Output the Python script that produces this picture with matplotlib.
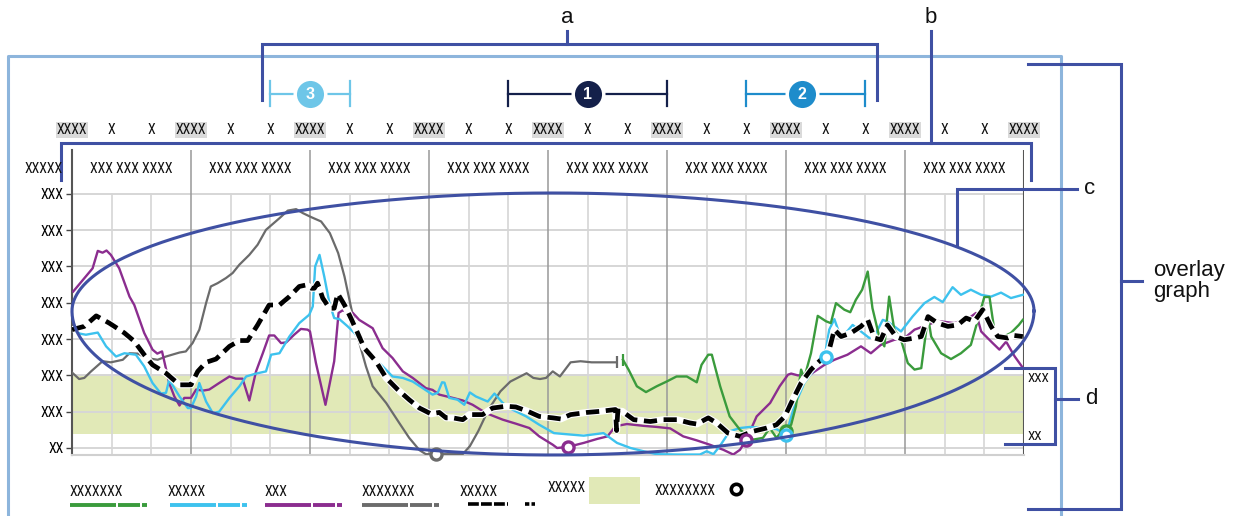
import matplotlib
matplotlib.use("Agg")
import matplotlib.pyplot as plt
from matplotlib import font_manager
from matplotlib.transforms import blended_transform_factory
import numpy as np

# ---- data (x in grid columns 0..24, y in tick units 0..7) ----
purple_x = [0.03, 0.52, 0.65, 0.77, 0.87, 0.98, 1.19, 1.45, 1.57, 1.82,
            2.03, 2.15, 2.27, 2.45, 2.58, 2.71, 2.83, 3.0, 3.13, 3.30,
            3.46, 3.71, 3.97, 4.13, 4.30, 4.47, 4.64, 4.81, 4.97, 5.10,
            5.27, 5.40, 5.6, 5.77, 5.94, 6.0, 6.15, 6.39, 6.61, 6.72,
            6.82, 7.08, 7.24, 7.58, 7.83, 8.08, 8.34, 8.59, 8.92, 9.09,
            9.26, 9.6, 9.85, 10.1, 10.44, 10.86, 11.19, 11.53, 11.78, 12.12,
            12.23, 12.5, 12.9, 13.24, 13.5, 13.7, 13.99, 14.41, 14.74, 15.08,
            15.41, 15.75, 16.08, 16.42, 16.67, 16.84, 17.0, 17.26, 17.6, 17.84,
            18.05, 18.13, 18.3, 18.63, 18.97, 19.22, 19.55, 19.89, 20.14, 20.39,
            20.73, 20.98, 21.24, 21.57, 21.82, 22.24, 22.58, 22.79, 22.92, 23.0,
            23.21, 23.38, 23.55, 23.76, 23.97]
purple_y = [4.31, 4.95, 5.43, 5.38, 5.44, 5.32, 4.95, 4.17, 3.94, 3.17,
            2.71, 2.60, 2.66, 1.79, 1.42, 1.17, 1.38, 1.38, 1.61, 1.58,
            1.61, 1.79, 1.97, 1.91, 1.91, 1.31, 2.11, 2.61, 3.10, 3.10,
            2.89, 2.91, 3.12, 3.28, 3.26, 3.21, 2.34, 1.19, 2.39, 3.72,
            3.79, 3.72, 3.53, 3.30, 2.75, 2.48, 2.11, 1.93, 1.65, 1.60,
            1.47, 1.38, 1.31, 1.19, 0.96, 0.78, 0.67, 0.55, 0.32, 0.09,
            0.0, 0.03, 0.14, 0.25, 0.32, 0.60, 0.66, 0.61, 0.58, 0.54,
            0.32, 0.21, 0.09, -0.05, -0.18, -0.05, 0.23, 0.87, 1.24, 1.70,
            2.02, 2.05, 2.0, 2.04, 2.29, 2.43, 2.57, 2.80, 2.61, 2.84,
            2.98, 3.02, 3.26, 3.39, 3.50, 3.44, 3.55, 3.72, 3.21, 3.12,
            2.89, 2.71, 2.93, 2.53, 2.21]

cyan_x = [0.03, 0.2, 0.35, 0.65, 0.86, 1.11, 1.32, 1.61, 1.82, 2.03,
          2.24, 2.37, 2.45, 2.71, 2.92, 3.0, 3.13, 3.21, 3.38, 3.55,
          3.71, 3.97, 4.22, 4.39, 4.64, 4.89, 5.02, 5.23, 5.48, 5.73,
          5.98, 6.07, 6.13, 6.24, 6.36, 6.49, 6.61, 6.74, 6.95, 7.12,
          7.37, 7.66, 7.83, 8.08, 8.34, 8.59, 8.84, 9.09, 9.22, 9.33,
          9.39, 9.51, 9.72, 9.89, 10.03, 10.18, 10.48, 10.65, 10.86, 11.1,
          11.45, 11.78, 12.15, 12.57, 12.9, 13.4, 13.74, 14.08, 14.41, 14.74,
          15.25, 15.83, 16.0, 16.17, 16.33, 16.58, 16.84, 17.09, 17.42, 17.76,
          18.0, 18.21, 18.46, 18.71, 18.97, 19.09, 19.22, 19.34, 19.47, 19.68,
          19.89, 20.1, 20.23, 20.44, 20.56, 20.73, 20.9, 21.19, 21.49, 21.74,
          21.95, 22.2, 22.41, 22.66, 22.92, 23.17, 23.42, 23.67, 23.97]
cyan_y = [3.26, 3.15, 3.12, 3.18, 2.80, 2.52, 2.61, 2.57, 2.25, 1.79,
          1.50, 1.52, 1.88, 1.42, 1.10, 1.10, 1.42, 1.79, 1.28, 0.96,
          1.0, 1.38, 1.70, 1.97, 2.05, 2.11, 2.57, 2.61, 3.07, 3.44,
          3.67, 3.90, 5.0, 5.32, 4.72, 3.99, 3.58, 3.55, 3.35, 3.17,
          2.80, 2.43, 2.25, 1.97, 1.93, 1.83, 1.65, 1.47, 1.52, 1.81,
          1.80, 1.38, 1.33, 1.19, 1.53, 1.42, 1.28, 1.50, 1.24, 1.06,
          0.87, 0.64, 0.41, 0.37, 0.34, 0.41, 0.14, 0.0, -0.09, -0.17,
          -0.18, -0.18, -0.09, -0.17, 0.05, 0.46, 0.55, 0.58, 0.55, 0.52,
          0.37, 1.15, 1.79, 2.16, 2.48, 3.26, 3.55, 3.17, 3.12, 3.39,
          3.21, 3.03, 3.08, 3.53, 3.48, 3.35, 3.21, 3.62, 3.99, 4.16,
          4.02, 4.43, 4.22, 4.36, 4.22, 4.17, 4.28, 4.13, 4.22]

grey_x = [0.0, 0.18, 0.31, 0.48, 0.77, 0.98, 1.28, 1.45, 1.66, 1.87,
          2.16, 2.37, 2.71, 2.87, 3.04, 3.21, 3.38, 3.5, 3.67, 3.88,
          4.05, 4.22, 4.47, 4.68, 4.89, 5.23, 5.44, 5.65, 5.82, 6.03,
          6.28, 6.5, 6.71, 6.87, 7.03, 7.2, 7.41, 7.58, 7.92, 8.25,
          8.5, 8.76, 8.92, 9.18, 9.85, 10.03, 10.24, 10.5, 10.8, 11.05,
          11.3, 11.46, 11.63, 11.8, 11.95, 12.12, 12.3, 12.57, 12.82, 13.1,
          13.41, 13.73]
grey_y = [2.08, 1.90, 1.93, 2.11, 2.39, 2.36, 2.43, 2.61, 2.60, 2.48,
          2.43, 2.52, 2.63, 2.66, 2.89, 3.26, 3.99, 4.45, 4.54, 4.68,
          4.82, 5.05, 5.32, 5.60, 6.01, 6.33, 6.54, 6.58, 6.47, 6.36,
          6.24, 5.92, 5.37, 4.72, 3.90, 3.07, 2.25, 1.70, 1.24, 0.69,
          0.28, -0.06, -0.17, -0.17, -0.17, 0.05, 0.46, 1.06, 1.56, 1.83,
          1.97, 2.06, 1.93, 1.90, 1.93, 2.11, 1.97, 2.36, 2.39, 2.36,
          2.36, 2.36]

green_x = [13.89, 14.03, 14.24, 14.47, 14.74, 14.99, 15.24, 15.5, 15.75, 15.87,
           16.04, 16.13, 16.34, 16.58, 16.84, 17.17, 17.42, 17.59, 17.76, 17.92,
           18.0, 18.13, 18.25, 18.38, 18.46, 18.63, 18.8, 19.01, 19.13, 19.26,
           19.47, 19.62, 19.76, 19.92, 20.06, 20.18, 20.35, 20.48, 20.6, 20.73,
           20.9, 21.07, 21.24, 21.41, 21.58, 21.66, 21.91, 22.16, 22.41, 22.66,
           23.0, 23.13, 23.25, 23.42, 23.67, 23.87, 23.97]
green_y = [2.43, 2.16, 1.70, 1.54, 1.70, 1.83, 1.97, 1.97, 1.81, 2.29,
           2.57, 2.57, 1.70, 0.87, 0.50, 0.23, 0.28, 0.55, 0.28, 0.50,
           0.50, 0.64, 1.15, 2.16, 1.93, 2.61, 3.64, 3.49, 3.44, 3.99,
           3.81, 3.74, 4.08, 4.36, 4.86, 3.85, 3.07, 2.80, 4.17, 3.26,
           2.98, 2.34, 2.16, 2.20, 3.62, 3.07, 2.61, 2.45, 2.61, 2.84,
           4.16, 4.16, 3.26, 3.03, 3.17, 3.39, 3.53]

avg_x = [0.0, 0.31, 0.61, 0.94, 1.32, 1.57, 1.82, 2.03, 2.37, 2.71,
         3.0, 3.17, 3.38, 3.63, 3.97, 4.22, 4.43, 4.68, 4.97, 5.23,
         5.48, 5.73, 5.9, 6.03, 6.11, 6.19, 6.32, 6.49, 6.61, 6.70,
         6.87, 7.03, 7.2, 7.37, 7.66, 7.92, 8.21, 8.5, 8.76, 9.05,
         9.26, 9.43, 9.6, 9.85, 10.02, 10.35, 10.6, 10.94, 11.19, 11.49,
         11.78, 12.12, 12.32, 12.57, 12.99, 13.32, 13.70, 13.73, 13.76, 13.87,
         14.16, 14.58, 14.91, 15.25, 15.58, 15.75, 16.04, 16.25, 16.54, 16.84,
         17.17, 17.51, 17.76, 17.97, 18.13, 18.38, 18.63, 18.88, 19.09, 19.22,
         19.39, 19.64, 19.89, 20.06, 20.23, 20.39, 20.56, 20.77, 20.98, 21.24,
         21.41, 21.58, 21.82, 22.08, 22.33, 22.54, 22.75, 22.96, 23.17, 23.34,
         23.59, 23.75, 23.97]
avg_y = [3.26, 3.35, 3.64, 3.44, 3.17, 2.94, 2.57, 2.29, 2.06, 1.74,
         1.74, 2.11, 2.36, 2.45, 2.80, 2.96, 2.96, 3.39, 3.94, 3.94,
         4.17, 4.45, 4.49, 4.40, 4.40, 4.54, 4.13, 3.85, 3.85, 4.25,
         3.94, 3.58, 3.17, 2.75, 2.39, 1.93, 1.61, 1.33, 1.10, 0.94,
         0.98, 0.83, 0.83, 0.78, 0.92, 0.92, 1.10, 1.15, 1.13, 1.01,
         0.87, 0.83, 0.80, 0.92, 0.98, 1.01, 1.06, 0.48, 1.02, 1.01,
         0.78, 0.73, 0.78, 0.78, 0.69, 0.66, 0.83, 0.69, 0.41, 0.32,
         0.46, 0.55, 0.64, 0.87, 1.24, 1.79, 2.16, 2.43, 2.71, 3.26,
         3.07, 3.17, 3.35, 3.53, 3.03, 2.98, 3.39, 3.07, 2.98, 3.03,
         3.07, 3.62, 3.44, 3.35, 3.39, 3.58, 3.49, 3.81, 3.35, 3.07,
         3.03, 3.10, 3.07]

# hollow circle markers
mark_x = [9.18, 12.5, 17.0, 18.0, 18.0, 19.0]
mark_y = [-0.17, 0.03, 0.22, 0.48, 0.37, 2.5]
mark_series = ["grey", "purple", "purple", "green", "cyan", "cyan"]

band_lo, band_hi = 0.38, 2.0
ytick_labels = ["XX"] + ["XXX"] * 7
top_labels = ["XXXX" if i % 3 == 0 else "X" for i in range(25)]
header_labels = ["XXX XXX XXXX"] * 8
legend_labels = ["XXXXXXX", "XXXXX", "XXX", "XXXXXXX", "XXXXX"]

# ---- style ----
COL = {"green": "#3A9B3C", "cyan": "#3DC2EE", "purple": "#8B2D8F", "grey": "#6B6B6B"}
BAND = "#E1E9B7"
NAVY = "#3F50A3"
FRAME = "#8DB5DC"

names = {f.name for f in font_manager.fontManager.ttflist}
NARROW = next((n for n in ["Liberation Sans Narrow", "Roboto Condensed", "Open Sans Condensed"]
               if n in names), "DejaVu Sans")
SANS = "Liberation Sans" if "Liberation Sans" in names else "DejaVu Sans"
nf = dict(family=NARROW, stretch="condensed", color="#111111")

W, H = 1241, 516
fig = plt.figure(figsize=(W / 100, H / 100), dpi=100)
ax = fig.add_axes([72 / W, (H - 455) / H, (1024 - 72) / W, (455 - 150) / H])
ov = fig.add_axes([0, 0, 1, 1], zorder=10)
ov.set_xlim(0, W)
ov.set_ylim(H, 0)
ov.axis("off")
ov.patch.set_visible(False)
bt = blended_transform_factory(ax.transData, ov.transData)  # x = column, y = pixel

YMIN, YMAX = -0.193, 8.209
ax.set_xlim(0, 24)
ax.set_ylim(YMIN, YMAX)

# grid
ax.axhspan(band_lo, band_hi, color=BAND, lw=0, zorder=0.5)
for v in range(8):
    ax.plot([0, 24], [v, v], color="#d6d6d6", lw=1.4, zorder=1)
for c in range(25):
    if c % 3:
        ax.plot([c, c], [YMIN, 7], color="#d6d6d6", lw=1.2, zorder=1)
for c in range(3, 24, 3):
    ax.plot([c, c], [YMIN, YMAX], color="#999999", lw=1.1, zorder=1.5)
ax.plot([24, 24], [YMIN, YMAX], color="#555555", lw=1.5, zorder=1.5)
for s in ["top", "right"]:
    ax.spines[s].set_visible(False)
ax.spines["left"].set_color("#555555")
ax.spines["left"].set_linewidth(1.5)
ax.spines["bottom"].set_color("#d0d0d0")
ax.spines["bottom"].set_linewidth(1.5)
ax.set_xticks([])
ax.set_yticks(range(8))
ax.set_yticklabels(ytick_labels, fontdict=dict(family=NARROW, stretch="condensed", size=10))
ax.tick_params(axis="y", length=4, width=1, color="#444444", pad=2)

# series
ax.plot(grey_x, grey_y, color=COL["grey"], lw=1.6, zorder=3)
ax.plot(grey_x[-1], grey_y[-1], marker="|", ms=9, mew=1.6, color=COL["grey"], zorder=3)
ax.plot(purple_x, purple_y, color=COL["purple"], lw=1.7, zorder=3)
ax.plot(cyan_x, cyan_y, color=COL["cyan"], lw=1.7, zorder=3)
ax.plot(green_x, green_y, color=COL["green"], lw=1.7, zorder=3)
ax.plot(green_x[0], green_y[0], marker="|", ms=9, mew=1.6, color=COL["green"], zorder=3)
ax.plot(avg_x, avg_y, color="white", lw=5.0, zorder=4, solid_capstyle="butt")
ax.plot(avg_x, avg_y, color="black", lw=3.4, dashes=(2.8, 1.4), zorder=4.1)
for mx, my, ms in zip(mark_x, mark_y, mark_series):
    ax.plot(mx, my, marker="o", ms=8, mfc="white", mec=COL[ms], mew=2.4,
            zorder=5, clip_on=False)

# column labels above the grid
for i, t in enumerate(top_labels):
    kw = dict(bbox=dict(boxstyle="square,pad=0.08", fc="#dadada", ec="none")) if len(t) > 1 else {}
    ov.text(i, 130, t, transform=bt, ha="center", va="center", size=10, **nf, **kw)
for i, t in enumerate(header_labels):
    ov.text(3 * i + 1.5, 169, t, transform=bt, ha="center", va="center", size=10, **nf)
ov.text(63, 169, "XXXXX", ha="right", va="center", size=10, **nf)
ov.text(1028, 379, "XXX", ha="left", va="center", size=9.5, **nf)
ov.text(1028, 437, "XX", ha="left", va="center", size=9.5, **nf)

# numbered period brackets
for num, col, lo, hi, mid in [("3", "#6EC6E8", 5, 7, 6), ("1", "#14204A", 11, 15, 13),
                              ("2", "#1E8CCB", 17, 20, 18.4)]:
    ov.plot([lo, hi], [94, 94], color=col, lw=1.6, transform=bt, clip_on=False)
    for e in (lo, hi):
        ov.plot([e, e], [81, 106], color=col, lw=1.6, transform=bt, clip_on=False)
    ov.plot(mid, 94, marker="o", ms=22, mfc=col, mec="white", mew=2.5,
            transform=bt, clip_on=False)
    ov.text(mid, 94.5, num, transform=bt, ha="center", va="center", color="white",
            size=11.5, weight="bold", family=SANS)

# outer frame
ov.plot([8, 8, 1061, 1061], [H, 56, 56, H], color=FRAME, lw=2.2, clip_on=False)

# callouts a, b, c, d and overlay graph
ln = dict(color=NAVY, lw=2.2, clip_on=False, solid_joinstyle="miter")
ov.plot([262, 262, 877, 877], [100, 44, 44, 100], **ln)
ov.plot([567, 567], [31, 44], **ln)
ov.plot([61, 61, 1031, 1031], [180, 143, 143, 180], **ln)
ov.plot([931, 931], [31, 143], **ln)
ov.plot([957, 957, 1077], [245, 189, 189], **ln)
ov.plot([1005, 1055, 1055, 1005], [368, 368, 444, 444], **ln)
ov.plot([1055, 1078], [399, 399], **ln)
ov.plot([1028, 1121, 1121, 1028], [64, 64, 509, 509], **ln)
ov.plot([1121, 1142], [281, 281], **ln)
t = np.linspace(0, 2 * np.pi, 500)
s = np.sin(t)
ov.plot(553 + 481 * np.cos(t), 311 - np.where(s >= 0, 118, 144) * s, **ln)

lf = dict(family=SANS, size=16, color="#111111")
ov.text(567, 23, "a", ha="center", va="baseline", **lf)
ov.text(931, 23, "b", ha="center", va="baseline", **lf)
ov.text(1084, 189, "c", ha="left", va="center", **lf)
ov.text(1085, 399, "d", ha="left", va="center", **lf)
ov.text(1153, 281, "overlay\ngraph", ha="left", va="center", linespacing=1.05, **lf)

# legend
legend_colors = [COL["green"], COL["cyan"], COL["purple"], COL["grey"]]
for lab, x0 in zip(legend_labels, [70, 168, 265, 362, 460]):
    ov.text(x0, 492, lab, ha="left", va="center", size=10, **nf)
for col, x0 in zip(legend_colors, [70, 170, 265, 362]):
    for a, b in [(0, 46), (48, 70), (72, 77)]:
        ov.plot([x0 + a, x0 + b], [505, 505], color=col, lw=2.8,
                solid_capstyle="butt", clip_on=False)
ov.plot([468, 508], [504, 504], color="black", lw=2.6, dashes=(3, 0.6), clip_on=False)
ov.plot([525, 535], [504, 504], color="black", lw=2.6, dashes=(1.2, 0.6), clip_on=False)
ov.text(548, 488, "XXXXX", ha="left", va="center", size=10, **nf)
ov.add_patch(plt.Rectangle((589, 477), 51, 27, color=BAND, lw=0))
ov.text(655, 491, "XXXXXXXX", ha="left", va="center", size=10, **nf)
ov.plot(736, 489, marker="o", ms=7.5, mfc="white", mec="black", mew=2.6, clip_on=False)

fig.savefig("out.png", dpi=100)
